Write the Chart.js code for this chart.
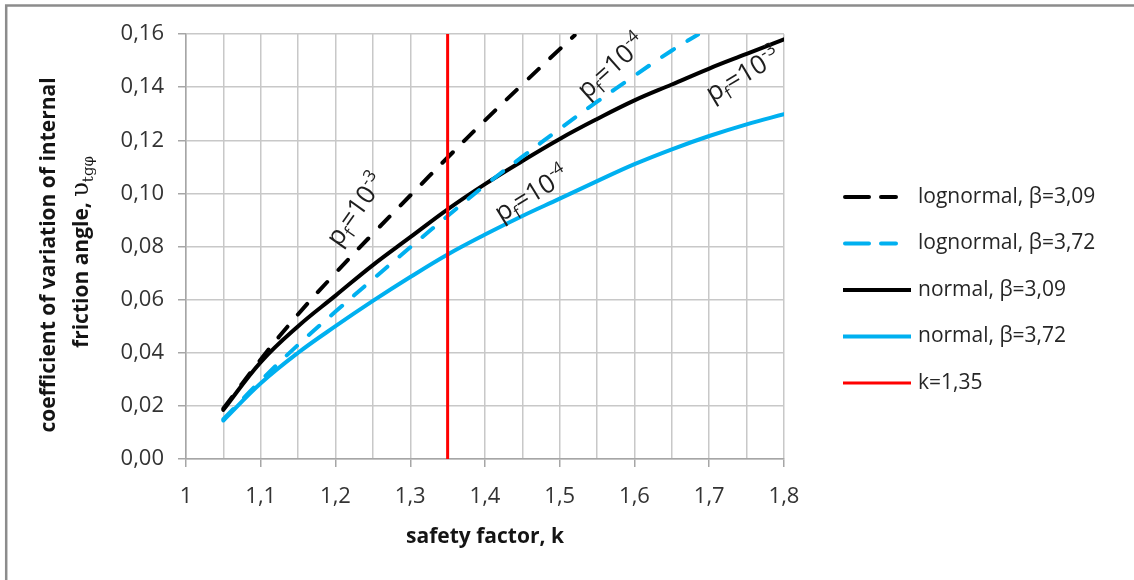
<!DOCTYPE html>
<html>
<head>
<meta charset="utf-8">
<script src="https://cdn.jsdelivr.net/npm/chart.js@4.4.1/dist/chart.umd.min.js"></script>
<style>
  html, body { margin: 0; padding: 0; background: #fff; overflow: hidden; }
  #wrap { width: 1134px; height: 580px; position: relative; }
</style>
</head>
<body>
<div id="wrap"><canvas id="myChart"></canvas></div>
<script>
// safety factor k for the normal curves and for the lognormal curves (these stop at the top of the plot)
const kNormal = [1.05, 1.10, 1.15, 1.20, 1.25, 1.30, 1.35, 1.40, 1.45, 1.50, 1.55, 1.60, 1.65, 1.70, 1.75, 1.80];
const normal309 = [0.0185, 0.0365, 0.050, 0.0615, 0.073, 0.0835, 0.094, 0.1035, 0.1122, 0.1205, 0.128, 0.135, 0.141, 0.147, 0.1525, 0.158];
const normal372 = [0.0145, 0.0285, 0.040, 0.050, 0.0595, 0.0685, 0.077, 0.0845, 0.0915, 0.098, 0.1046, 0.111, 0.1166, 0.1216, 0.126, 0.1298];

const kLog309 = [1.05, 1.10, 1.15, 1.20, 1.25, 1.30, 1.35, 1.40, 1.45, 1.50, 1.52];
const lognormal309 = [0.019, 0.0375, 0.0545, 0.070, 0.0848, 0.0992, 0.1135, 0.1275, 0.141, 0.1543, 0.1595];

const kLog372 = [1.05, 1.10, 1.15, 1.20, 1.25, 1.30, 1.35, 1.40, 1.45, 1.50, 1.55, 1.60, 1.65, 1.685];
const lognormal372 = [0.015, 0.0295, 0.043, 0.0555, 0.0677, 0.0797, 0.0915, 0.103, 0.1138, 0.1243, 0.1345, 0.1443, 0.1538, 0.1598];

const kLimit = 1.35;
const yRange = [0, 0.16];

const seriesLabels = ['lognormal, β=3,09', 'lognormal, β=3,72', 'normal, β=3,09', 'normal, β=3,72', 'k=1,35'];

// p_f notes along the curves: [k, v, angle in degrees, exponent]
const notes = [
  [1.2274, 0.0938, -54.6, '-3'],
  [1.5695, 0.1477, -41.8, '-4'],
  [1.4625, 0.0997, -31.5, '-4'],
  [1.7456, 0.1446, -30.6, '-3']
];

const BLUE = '#00b0f0';
const BLACK = '#000000';
const RED = '#ff0000';
const FONT = "'Open Sans', sans-serif";

function pts(xs, ys) {
  return xs.map((x, i) => ({ x: x, y: ys[i] }));
}

const data = {
  datasets: [
    { label: seriesLabels[0], data: pts(kLog309, lognormal309), borderColor: BLACK, borderDash: [14, 16], order: 1 },
    { label: seriesLabels[1], data: pts(kLog372, lognormal372), borderColor: BLUE, borderDash: [14, 16], order: 2 },
    { label: seriesLabels[2], data: pts(kNormal, normal309), borderColor: BLACK, order: 3 },
    { label: seriesLabels[3], data: pts(kNormal, normal372), borderColor: BLUE, order: 4 },
    { label: seriesLabels[4], data: pts([kLimit, kLimit], yRange), borderColor: RED, borderWidth: 3, tension: 0, order: 0 }
  ]
};

// draw a line of text made of pieces with their own font and vertical shift
function richText(ctx, parts, align) {
  ctx.textAlign = 'left';
  let w = 0;
  parts.forEach(p => { ctx.font = p.font; p.w = ctx.measureText(p.t).width; w += p.w; });
  let x = align === 'center' ? -w / 2 : 0;
  parts.forEach(p => {
    ctx.font = p.font;
    ctx.fillText(p.t, x, p.dy || 0);
    x += p.w;
  });
}

const extras = {
  id: 'extras',
  afterDraw(chart) {
    const ctx = chart.ctx;
    const xs = chart.scales.x, ys = chart.scales.y;

    // outer frame
    ctx.save();
    ctx.strokeStyle = '#8c8c8c';
    ctx.lineWidth = 2.5;
    ctx.beginPath();
    ctx.moveTo(6.2, 600);
    ctx.lineTo(6.2, 5.4);
    ctx.lineTo(1140, 5.4);
    ctx.stroke();
    ctx.restore();

    // p_f notes
    ctx.save();
    ctx.fillStyle = '#1e1e1e';
    ctx.textBaseline = 'alphabetic';
    notes.forEach(n => {
      ctx.save();
      ctx.translate(xs.getPixelForValue(n[0]), ys.getPixelForValue(n[1]));
      ctx.rotate(n[2] * Math.PI / 180);
      ctx.translate(0, 8);
      richText(ctx, [
        { t: 'p', font: '26px ' + FONT },
        { t: 'f', font: '17px ' + FONT, dy: 6 },
        { t: '=10', font: '26px ' + FONT },
        { t: n[3], font: '17px ' + FONT, dy: -11 }
      ], 'center');
      ctx.restore();
    });
    ctx.restore();

    // axis titles
    ctx.save();
    ctx.fillStyle = '#141414';
    ctx.textAlign = 'center';
    ctx.textBaseline = 'middle';
    ctx.font = 'bold 21px ' + FONT;
    ctx.fillText('safety factor, k', 485, 537);

    ctx.textBaseline = 'alphabetic';
    ctx.save();
    ctx.translate(55, 255);
    ctx.rotate(-Math.PI / 2);
    ctx.font = 'bold 21px ' + FONT;
    ctx.fillText('coefficient of variation of internal', 0, 0);
    ctx.restore();

    ctx.save();
    ctx.translate(88, 252);
    ctx.rotate(-Math.PI / 2);
    richText(ctx, [
      { t: 'friction angle, ', font: 'bold 21px ' + FONT },
      { t: 'υ', font: "24px 'DejaVu Serif', serif" },
      { t: 'tgφ', font: "15px 'DejaVu Serif', serif", dy: 5 }
    ], 'center');
    ctx.restore();
    ctx.restore();

    // legend
    ctx.save();
    ctx.textAlign = 'left';
    ctx.textBaseline = 'middle';
    ctx.font = '21px ' + FONT;
    chart.data.datasets.forEach((ds, i) => {
      const y = 197 + i * 46.5;
      ctx.strokeStyle = ds.borderColor;
      ctx.lineWidth = ds.borderWidth || 4;
      ctx.lineCap = ds.borderDash ? 'round' : 'butt';
      ctx.setLineDash(ds.borderDash ? [24, 12] : []);
      ctx.beginPath();
      ctx.moveTo(ds.borderDash ? 845 : 843, y);
      ctx.lineTo(ds.borderDash ? 896 : 911, y);
      ctx.stroke();
      ctx.setLineDash([]);
      ctx.fillStyle = '#262626';
      ctx.fillText(ds.label, 918, y);
    });
    ctx.restore();
  }
};

const config = {
  type: 'line',
  data: data,
  options: {
    responsive: true,
    maintainAspectRatio: false,
    animation: false,
    layout: { padding: { left: 0, top: 34, right: 350, bottom: 0 } },
    elements: {
      point: { radius: 0 },
      line: { borderWidth: 4, tension: 0.4, borderCapStyle: 'round', fill: false }
    },
    plugins: {
      legend: { display: false },
      tooltip: { enabled: false }
    },
    scales: {
      x: {
        type: 'linear',
        min: 1,
        max: 1.8,
        afterFit(scale) { scale.height = 121; },
        ticks: {
          stepSize: 0.05,
          autoSkip: false,
          maxRotation: 0,
          padding: 17,
          color: '#333333',
          font: { family: FONT, size: 22 },
          callback(v) {
            const r = Math.round(v * 100);
            return r % 10 === 0 ? String(r / 100).replace('.', ',') : '';
          }
        },
        grid: {
          color: '#c8c8c8',
          lineWidth: 1.5,
          tickLength: 8,
          tickColor(c) {
            return c.tick && Math.round(c.tick.value * 100) % 10 === 0 ? '#a6a6a6' : 'rgba(0,0,0,0)';
          }
        },
        border: { color: '#a6a6a6', width: 1.5 }
      },
      y: {
        min: yRange[0],
        max: yRange[1],
        afterFit(scale) { scale.width = 186; },
        ticks: {
          stepSize: 0.02,
          padding: 14,
          color: '#333333',
          font: { family: FONT, size: 22 },
          callback(v) { return v.toFixed(2).replace('.', ','); }
        },
        grid: { color: '#c8c8c8', lineWidth: 1.5, tickLength: 8, tickColor: '#a6a6a6' },
        border: { color: '#a6a6a6', width: 1.5 }
      }
    }
  },
  plugins: [extras]
};

const myChart = new Chart(document.getElementById('myChart'), config);
</script>
</body>
</html>
